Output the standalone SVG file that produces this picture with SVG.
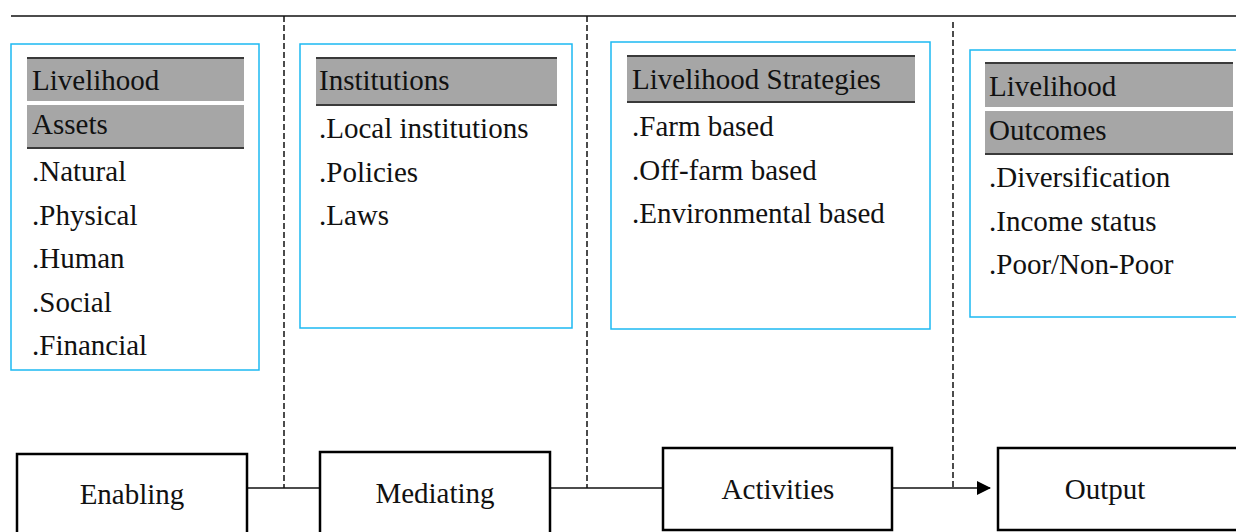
<svg xmlns="http://www.w3.org/2000/svg" width="1236" height="532" viewBox="0 0 1236 532">
  <style>
    text { font-family: "Liberation Serif", "Times New Roman", serif; font-size: 29px; fill: #111; }
    .panel { fill: #fff; stroke: #1cb9f2; stroke-width: 1.5; }
    .bar { fill: #a6a6a6; }
    .rule { stroke: #3a3a3a; stroke-width: 2; }
    .stage { fill: #fff; stroke: #000; stroke-width: 2.5; }
    .divider { stroke: #111; stroke-width: 1.5; stroke-dasharray: 6 3; fill: none; }
    .link { stroke: #111; stroke-width: 1.5; fill: none; }
    .mid { text-anchor: middle; }
  </style>
  <defs>
    <marker id="arrowhead" markerWidth="14" markerHeight="14" refX="13" refY="7" orient="auto" markerUnits="userSpaceOnUse">
      <path d="M0,0 L14,7 L0,14 Z" fill="#000"/>
    </marker>
  </defs>

  <!-- header rule and column dividers -->
  <g id="frame">
    <line x1="11" y1="16" x2="1236" y2="16" stroke="#111" stroke-width="1.5"/>
    <line class="divider" x1="284" y1="16" x2="284" y2="488"/>
    <line class="divider" x1="587" y1="16" x2="587" y2="488"/>
    <line class="divider" x1="953" y1="22" x2="953" y2="488" stroke-dasharray="4 2" stroke-width="1.2"/>
  </g>

  <!-- Livelihood Assets panel -->
  <g id="assets">
    <rect class="panel" x="11" y="44" width="248" height="326"/>
    <rect class="bar" x="27" y="58" width="217" height="43"/>
    <rect class="bar" x="27" y="105" width="217" height="42"/>
    <line class="rule" x1="27" y1="58" x2="244" y2="58"/>
    <line class="rule" x1="27" y1="148" x2="244" y2="148"/>
    <text x="32" y="90">Livelihood</text>
    <text x="32" y="134">Assets</text>
    <text x="32" y="181">.Natural</text>
    <text x="32" y="225">.Physical</text>
    <text x="32" y="268">.Human</text>
    <text x="32" y="312">.Social</text>
    <text x="32" y="355">.Financial</text>
  </g>

  <!-- Institutions panel -->
  <g id="institutions">
    <rect class="panel" x="300" y="44" width="272" height="284"/>
    <rect class="bar" x="316" y="58" width="241" height="46"/>
    <line class="rule" x1="316" y1="58" x2="557" y2="58"/>
    <line class="rule" x1="316" y1="105" x2="557" y2="105"/>
    <text x="319" y="90">Institutions</text>
    <text x="319" y="138">.Local institutions</text>
    <text x="319" y="182">.Policies</text>
    <text x="319" y="225">.Laws</text>
  </g>

  <!-- Livelihood Strategies panel -->
  <g id="strategies">
    <rect class="panel" x="611" y="42" width="319" height="287"/>
    <rect class="bar" x="627" y="56" width="288" height="46"/>
    <line class="rule" x1="627" y1="56" x2="915" y2="56"/>
    <line class="rule" x1="627" y1="102" x2="915" y2="102"/>
    <text x="632" y="89">Livelihood Strategies</text>
    <text x="632" y="136">.Farm based</text>
    <text x="632" y="180">.Off-farm based</text>
    <text x="632" y="223">.Environmental based</text>
  </g>

  <!-- Livelihood Outcomes panel -->
  <g id="outcomes">
    <rect class="panel" x="970" y="50" width="280" height="267"/>
    <rect class="bar" x="985" y="63" width="248" height="44"/>
    <rect class="bar" x="985" y="111" width="248" height="43"/>
    <line class="rule" x1="985" y1="63" x2="1233" y2="63"/>
    <line class="rule" x1="985" y1="154" x2="1233" y2="154"/>
    <text x="989" y="96">Livelihood</text>
    <text x="989" y="140">Outcomes</text>
    <text x="989" y="187">.Diversification</text>
    <text x="989" y="231">.Income status</text>
    <text x="989" y="274">.Poor/Non-Poor</text>
  </g>

  <!-- stage connectors -->
  <g id="connectors">
    <line class="link" x1="247" y1="488" x2="320" y2="488"/>
    <line class="link" x1="550" y1="488" x2="663" y2="488"/>
    <line class="link" x1="892" y1="488" x2="990" y2="488" marker-end="url(#arrowhead)"/>
  </g>

  <!-- stage boxes -->
  <g id="enabling">
    <rect class="stage" x="17" y="454" width="230" height="90"/>
    <text class="mid" x="132" y="504">Enabling</text>
  </g>
  <g id="mediating">
    <rect class="stage" x="320" y="452" width="230" height="90"/>
    <text class="mid" x="435" y="503">Mediating</text>
  </g>
  <g id="activities">
    <rect class="stage" x="663" y="448" width="229" height="82"/>
    <text class="mid" x="778" y="499">Activities</text>
  </g>
  <g id="output">
    <rect class="stage" x="998" y="448" width="250" height="82"/>
    <text class="mid" x="1105" y="499">Output</text>
  </g>
</svg>
